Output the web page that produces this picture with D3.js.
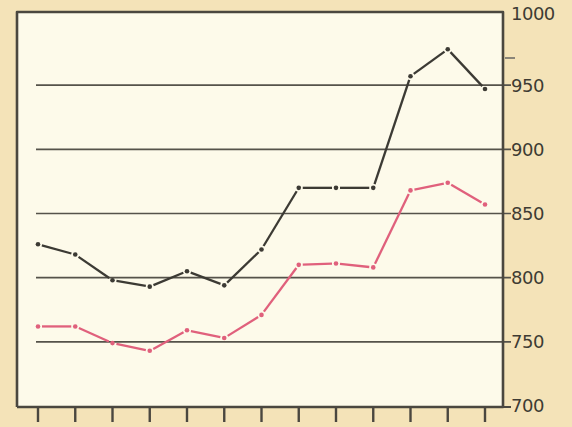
<!DOCTYPE html>
<meta charset="utf-8">
<style>
body { margin: 0; background: #f4e3b8; }
svg { display: block; }
.tick-label { font: 18px "DejaVu Sans", sans-serif; fill: #3e3b33; letter-spacing: -0.5px; }
</style>
<svg width="572" height="427"></svg>
<script src="https://d3js.org/d3.v7.min.js"></script>
<script>
// data
var periods = [1, 2, 3, 4, 5, 6, 7, 8, 9, 10, 11, 12, 13]
var blackSeries = [826, 818, 798, 793, 805, 794, 822, 870, 870, 870, 957, 978, 947]
var redSeries = [762, 762, 749, 743, 759, 753, 771, 810, 811, 808, 868, 874, 857]
var yTicks = [700, 750, 800, 850, 900, 950, 1000]

var svg = d3.select("svg"),
    width = +svg.attr("width"),
    height = +svg.attr("height")

var frame = {left: 17, top: 12, right: 503, bottom: 407}

var x = d3.scalePoint().domain(periods).range([38, 485])
var y = d3.scaleLinear().domain([700, 1000]).range([406, 21])

// background
svg.append("rect").attr("width", width).attr("height", height).attr("fill", "#f4e3b8")
svg.append("rect")
  .attr("x", frame.left).attr("y", frame.top)
  .attr("width", frame.right - frame.left).attr("height", frame.bottom - frame.top)
  .attr("fill", "#fdfaea")

// gridlines
svg.selectAll(".grid").data(yTicks.filter(function(d) { return d > 700 && d < 1000 }))
  .enter().append("line")
  .attr("x1", 36).attr("x2", frame.right + 8)
  .attr("y1", function(d) { return y(d) }).attr("y2", function(d) { return y(d) })
  .attr("stroke", "#55524a").attr("stroke-width", 1.6)

// frame
svg.append("path")
  .attr("d", "M" + frame.left + "," + frame.bottom + "V" + frame.top + "H" + frame.right + "V" + frame.bottom + "H" + frame.left)
  .attr("fill", "none").attr("stroke", "#4a473f").attr("stroke-width", 2.6)
  .attr("stroke-linejoin", "round")

// right axis labels
svg.selectAll(".tick-label").data(yTicks)
  .enter().append("text")
  .attr("class", "tick-label")
  .attr("x", 511)
  .attr("y", function(d) { return d == 1000 ? y(d) - 7 : y(d) })
  .attr("dy", "0.36em")
  .text(function(d) { return d })
svg.append("line").attr("x1", frame.right).attr("x2", frame.right + 8)
  .attr("y1", frame.bottom).attr("y2", frame.bottom)
  .attr("stroke", "#4a473f").attr("stroke-width", 2)
svg.append("line").attr("x1", frame.right + 2).attr("x2", frame.right + 12)
  .attr("y1", 58).attr("y2", 58)
  .attr("stroke", "#8a8578").attr("stroke-width", 2)

// bottom ticks
svg.selectAll(".xtick").data(periods)
  .enter().append("line")
  .attr("x1", function(d) { return x(d) }).attr("x2", function(d) { return x(d) })
  .attr("y1", frame.bottom).attr("y2", frame.bottom + 15)
  .attr("stroke", "#4a473f").attr("stroke-width", 2.4)

// series: each segment is cut short near the points, leaving a small gap
function drawSeries(values, color) {
  var pts = values.map(function(v, i) { return {x: x(periods[i]), y: y(v)} })
  var gap = 4
  var segs = d3.pairs(pts).map(function(p) {
    var dx = p[1].x - p[0].x, dy = p[1].y - p[0].y
    var len = Math.sqrt(dx * dx + dy * dy)
    var ux = dx / len, uy = dy / len
    return [{x: p[0].x + ux * gap, y: p[0].y + uy * gap},
            {x: p[1].x - ux * gap, y: p[1].y - uy * gap}]
  })
  var line = d3.line().x(function(d) { return d.x }).y(function(d) { return d.y })
  svg.selectAll(null).data(segs)
    .enter().append("path")
    .attr("d", line)
    .attr("fill", "none")
    .attr("stroke", color)
    .attr("stroke-width", 2.3)
  svg.selectAll(null).data(pts)
    .enter().append("circle")
    .attr("cx", function(d) { return d.x })
    .attr("cy", function(d) { return d.y })
    .attr("r", 2.3)
    .attr("fill", color)
}
drawSeries(redSeries, "#e0607c")
drawSeries(blackSeries, "#3c3a34")
</script>
